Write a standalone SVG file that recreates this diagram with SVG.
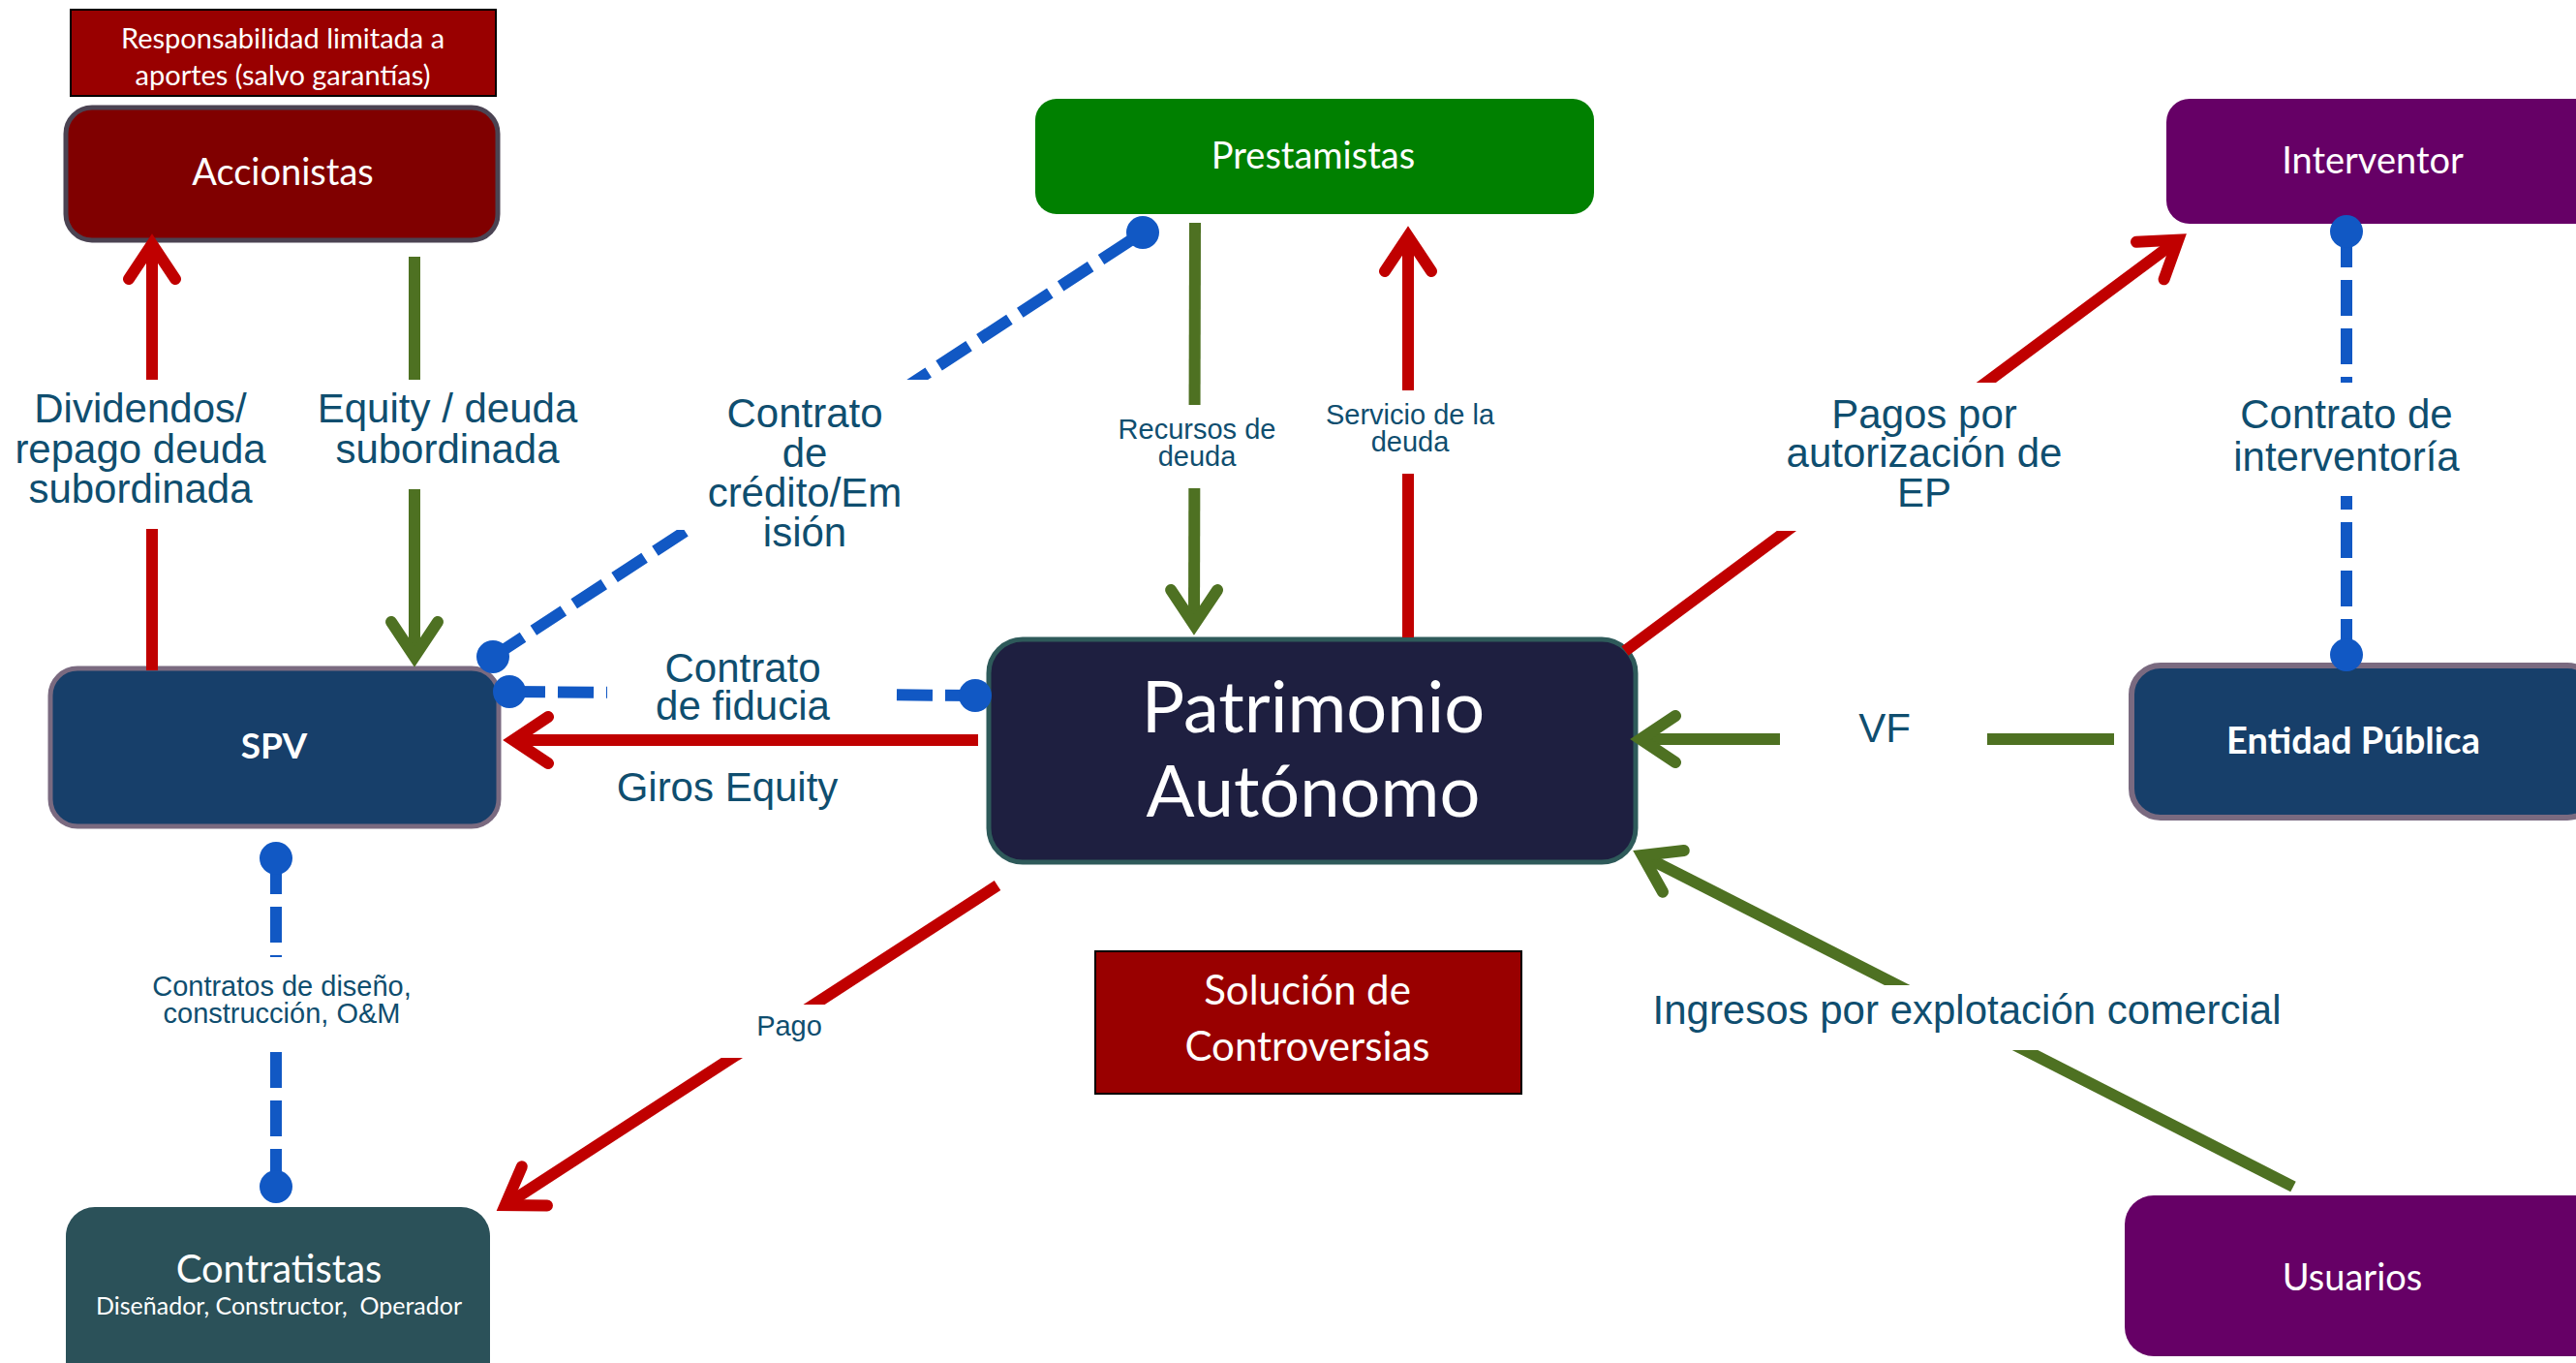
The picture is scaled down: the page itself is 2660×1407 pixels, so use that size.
<svg xmlns="http://www.w3.org/2000/svg" width="2660" height="1407" viewBox="0 0 2660 1407">
<style>
.nt{font-family:Lato,"Open Sans","Liberation Sans",sans-serif;fill:#ffffff;text-anchor:middle}
.b{font-weight:bold}
.lb{font-family:"Liberation Sans",Arial,sans-serif;fill:#0f4e6f;text-anchor:middle;font-size:42px}
.ls{font-family:"Liberation Sans",Arial,sans-serif;fill:#0f4e6f;text-anchor:middle;font-size:29px}
.red{stroke:#c00000;stroke-width:12;fill:none}
.grn{stroke:#4e7122;stroke-width:12;fill:none}
.dsh{stroke:#1158c4;stroke-width:12;fill:none;stroke-dasharray:37 13}
.dot{fill:#1158c4}
.bg{fill:#ffffff}
</style>
<defs>
<marker id="ahR" markerUnits="userSpaceOnUse" orient="auto" refX="0" refY="0" markerWidth="60" markerHeight="60" overflow="visible">
<path d="M-36,-24 L0,0 L-36,24" fill="none" stroke="#c00000" stroke-width="12" stroke-linecap="round" stroke-linejoin="miter"/>
</marker>
<marker id="ahG" markerUnits="userSpaceOnUse" orient="auto" refX="0" refY="0" markerWidth="60" markerHeight="60" overflow="visible">
<path d="M-36,-24 L0,0 L-36,24" fill="none" stroke="#4e7122" stroke-width="12" stroke-linecap="round" stroke-linejoin="miter"/>
</marker>
</defs>
<rect width="2660" height="1407" fill="#ffffff"/>

<g id="nodes">
<g id="responsabilidad">
<rect x="73" y="10" width="439" height="89" fill="#990000" stroke="#000000" stroke-width="2"/>
<text class="nt" font-size="29"><tspan x="292" y="50">Responsabilidad limitada a</tspan><tspan x="292" y="88">aportes (salvo garantías)</tspan></text>
</g>
<g id="accionistas">
<rect x="68" y="111" width="446" height="137" rx="27" fill="#800000" stroke="#4b4352" stroke-width="5"/>
<text class="nt" x="292" y="191" font-size="38">Accionistas</text>
</g>
<g id="prestamistas">
<rect x="1069" y="102" width="577" height="119" rx="22" fill="#008000"/>
<text class="nt" x="1356" y="174" font-size="38">Prestamistas</text>
</g>
<g id="interventor">
<rect x="2237" y="102" width="450" height="129" rx="24" fill="#660066"/>
<text class="nt" x="2450" y="179" font-size="38">Interventor</text>
</g>
<g id="spv">
<rect x="52" y="690" width="463" height="163" rx="28" fill="#173f6a" stroke="#7a6a80" stroke-width="5"/>
<text class="nt b" x="283" y="783" font-size="37">SPV</text>
</g>
<g id="patrimonio">
<rect x="1021" y="660" width="668" height="230" rx="35" fill="#1e1f40" stroke="#2e5a5a" stroke-width="5"/>
<text class="nt" font-size="74"><tspan x="1356" y="756">Patrimonio</tspan><tspan x="1356" y="843">Autónomo</tspan></text>
</g>
<g id="entidad">
<rect x="2201" y="687" width="480" height="157" rx="30" fill="#173f6a" stroke="#7a6a80" stroke-width="6"/>
<text class="nt b" x="2430" y="778" font-size="38">Entidad Pública</text>
</g>
<g id="solucion">
<rect x="1131" y="982" width="440" height="147" fill="#990000" stroke="#000000" stroke-width="2"/>
<text class="nt" font-size="42"><tspan x="1350" y="1037">Solución de</tspan><tspan x="1350" y="1095">Controversias</tspan></text>
</g>
<g id="contratistas">
<rect x="68" y="1246" width="438" height="200" rx="30" fill="#2b5159"/>
<text class="nt" x="288" y="1324" font-size="40">Contratistas</text>
<text class="nt" x="288" y="1357" font-size="25">Diseñador, Constructor,&#160; Operador</text>
</g>
<g id="usuarios">
<rect x="2194" y="1234" width="500" height="166" rx="30" fill="#660066"/>
<text class="nt" x="2429" y="1332" font-size="38">Usuarios</text>
</g>
</g>

<g id="connectors">
<path class="red" d="M157,692 L157,252" marker-end="url(#ahR)"/>
<path class="grn" d="M428,265 L428,678" marker-end="url(#ahG)"/>
<path class="dsh" d="M509,678 L1180,240"/>
<circle class="dot" cx="509" cy="678" r="17"/>
<circle class="dot" cx="1180" cy="240" r="17"/>
<path class="grn" d="M1234,230 L1233,645" marker-end="url(#ahG)"/>
<path class="red" d="M1454,658 L1454,244" marker-end="url(#ahR)"/>
<path class="red" d="M1678,672 L2249.2,247.6" marker-end="url(#ahR)"/>
<path class="dsh" d="M2423,239 L2423,676"/>
<circle class="dot" cx="2423" cy="239" r="17"/>
<circle class="dot" cx="2423" cy="676" r="17"/>
<path class="dsh" d="M526,714 L1007,718"/>
<circle class="dot" cx="526" cy="714" r="17"/>
<circle class="dot" cx="1007" cy="718" r="17"/>
<path class="red" d="M1010,764 L530,764" marker-end="url(#ahR)"/>
<path class="grn" d="M2183,763 L1694,763" marker-end="url(#ahG)"/>
<path class="dsh" d="M285,886 L285,1225"/>
<circle class="dot" cx="285" cy="886" r="17"/>
<circle class="dot" cx="285" cy="1225" r="17"/>
<path class="red" d="M1030,914 L521.7,1244" marker-end="url(#ahR)"/>
<path class="grn" d="M2368,1225 L1695.8,883" marker-end="url(#ahG)"/>
</g>

<g id="labels">
<rect class="bg" x="125" y="392" width="64" height="154"/>
<text class="lb"><tspan x="145" y="436">Dividendos/</tspan><tspan x="145" y="478">repago deuda</tspan><tspan x="145" y="519">subordinada</tspan></text>
<rect class="bg" x="398" y="392" width="60" height="113"/>
<text class="lb"><tspan x="462" y="436">Equity / deuda</tspan><tspan x="462" y="478">subordinada</tspan></text>
<rect class="bg" x="695" y="392" width="270" height="155"/>
<text class="lb"><tspan x="831" y="441">Contrato</tspan><tspan x="831" y="482">de</tspan><tspan x="831" y="523">crédito/Em</tspan><tspan x="831" y="564">isión</tspan></text>
<rect class="bg" x="1200" y="418" width="70" height="86"/>
<text class="ls"><tspan x="1236" y="453">Recursos de</tspan><tspan x="1236" y="481">deuda</tspan></text>
<rect class="bg" x="1420" y="403" width="70" height="86"/>
<text class="ls"><tspan x="1456" y="438">Servicio de la</tspan><tspan x="1456" y="466">deuda</tspan></text>
<rect class="bg" x="1830" y="395" width="310" height="153"/>
<text class="lb"><tspan x="1987" y="442">Pagos por</tspan><tspan x="1987" y="482">autorización de</tspan><tspan x="1987" y="523">EP</tspan></text>
<rect class="bg" x="2400" y="395" width="46" height="117"/>
<text class="lb"><tspan x="2423" y="442">Contrato de</tspan><tspan x="2423" y="486">interventoría</tspan></text>
<rect class="bg" x="627" y="690" width="288" height="60"/>
<text class="lb"><tspan x="767" y="704">Contrato</tspan><tspan x="767" y="743">de fiducia</tspan></text>
<text class="lb" x="751" y="827">Giros Equity</text>
<rect class="bg" x="1838" y="740" width="214" height="50"/>
<text class="lb" x="1946" y="766">VF</text>
<rect class="bg" x="262" y="988" width="46" height="95"/>
<text class="ls"><tspan x="291" y="1028">Contratos de diseño,</tspan><tspan x="291" y="1056">construcción, O&amp;M</tspan></text>
<rect class="bg" x="740" y="1037" width="120" height="55"/>
<text class="ls" x="815" y="1069">Pago</text>
<rect class="bg" x="1700" y="1017" width="670" height="67"/>
<text class="lb" x="2031" y="1057">Ingresos por explotación comercial</text>
</g>
</svg>
